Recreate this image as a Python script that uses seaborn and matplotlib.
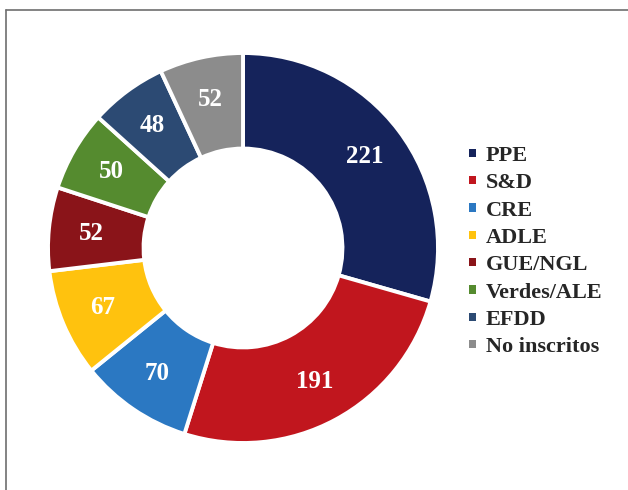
import matplotlib
matplotlib.use("Agg")
import matplotlib.pyplot as plt
import seaborn as sns
import numpy as np
from matplotlib.lines import Line2D
from matplotlib.patches import Patch

groups = ["PPE", "S&D", "CRE", "ADLE", "GUE/NGL", "Verdes/ALE", "EFDD", "No inscritos"]
seats = [221, 191, 70, 67, 52, 50, 48, 52]
colors = ["#15235B", "#C1161E", "#2B78C2", "#FFC20E", "#8A1419", "#558B2F", "#2C4A73", "#8C8C8C"]

sns.set_theme(style="white")
plt.rcParams["font.family"] = ["Liberation Serif", "DejaVu Serif"]

fig = plt.figure(figsize=(6.28, 4.9), dpi=100)
W, H = 628, 490
cx, cy, R = 243, 248, 195
ax = fig.add_axes([(cx - R) / W, (H - cy - R) / H, 2 * R / W, 2 * R / H])

pal = sns.color_palette(colors)
wedges, _ = ax.pie(seats, colors=pal, startangle=90, counterclock=False,
                   radius=1.0, wedgeprops=dict(width=0.49, edgecolor="white", linewidth=2.8))
total = sum(seats)
cum = 0
for v in seats:
    mid = 90 - (cum + v / 2) / total * 360
    cum += v
    r = 0.78
    ax.text(r * np.cos(np.radians(mid)), r * np.sin(np.radians(mid)), str(v),
            ha="center", va="center", color="white", fontsize=18, fontweight="bold")
ax.set_aspect("equal")
ax.set_xlim(-1, 1)
ax.set_ylim(-1, 1)
ax.axis("off")

handles = [Patch(facecolor=c, edgecolor="none") for c in pal]
leg = fig.legend(handles, groups, loc="upper left", bbox_to_anchor=(469 / W, 1 - 146 / H),
                 frameon=False, prop=dict(family="Liberation Serif", weight="bold", size=16),
                 handlelength=0.3, handleheight=0.2, handletextpad=0.45,
                 labelspacing=0.33, borderaxespad=0, borderpad=0)

fig.add_artist(Line2D([6 / W, 6 / W], [0, 1 - 10 / H], transform=fig.transFigure, color="#6E6E6E", lw=1.2))
fig.add_artist(Line2D([6 / W, 1], [1 - 10 / H, 1 - 10 / H], transform=fig.transFigure, color="#6E6E6E", lw=1.2))

fig.savefig("out.png", dpi=100, facecolor="white")
